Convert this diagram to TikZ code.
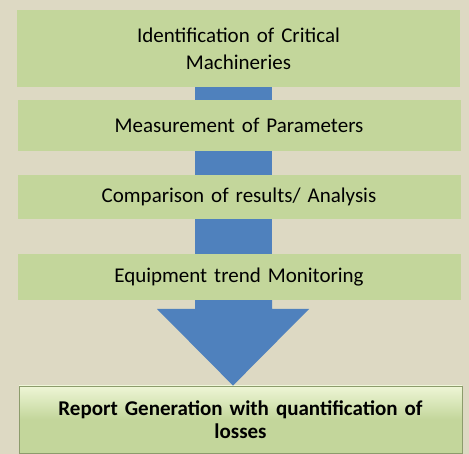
\documentclass[tikz,border=0pt]{standalone}
\usepackage{fontspec}
\setmainfont{Carlito}
\definecolor{bgtan}{HTML}{DDD9C3}
\definecolor{boxgreen}{HTML}{C3D69B}
\definecolor{lightgreen}{HTML}{EEF6D6}
\definecolor{edgegreen}{HTML}{8C9C6C}
\definecolor{barblue}{HTML}{4F81BD}
\begin{document}
\begin{tikzpicture}[x=1pt,y=-1pt,
  stepbox/.style={fill=boxgreen, draw=none, minimum width=443pt, inner sep=0pt, align=center,
    font=\fontsize{21}{27}\selectfont, text width=420pt},
  bar/.style={fill=barblue, draw=none}]
\fill[bgtan] (0,0) rectangle (469,454);
\useasboundingbox (0,0) rectangle (469,454);
\node[stepbox, minimum height=77pt] (b1) at (238.5,48.5) {Identification of Critical\\Machineries};
\node[stepbox, minimum height=51pt] (b2) at (239,125.5) {Measurement of Parameters};
\node[stepbox, minimum height=44pt] (b3) at (239,197) {Comparison of results/ Analysis};
\node[stepbox, minimum height=46pt] (b4) at (239,277) {Equipment trend Monitoring};
\node[minimum width=443pt, minimum height=67pt, inner sep=0pt, draw=edgegreen, line width=0.8pt,
  top color=lightgreen, bottom color=boxgreen, middle color=boxgreen, shading angle=0,
  align=center, text width=420pt, font=\fontsize{21}{23}\selectfont\bfseries] (b5) at (240.5,419.5)
  {Report Generation with quantification of\\losses};
% connectors
\fill[bar] (195,0 |- b1.south) rectangle (272,0 |- b2.north);
\fill[bar] (195,0 |- b2.south) rectangle (272,0 |- b3.north);
\fill[bar] (195,0 |- b3.south) rectangle (272,0 |- b4.north);
\coordinate (tip) at (233,0 |- b5.north);
\fill[bar] (195,0 |- b4.south) -- (195,309) -- (157,309) -- (tip) -- (309,309) -- (272,309) -- (272,0 |- b4.south) -- cycle;
\end{tikzpicture}
\end{document}
